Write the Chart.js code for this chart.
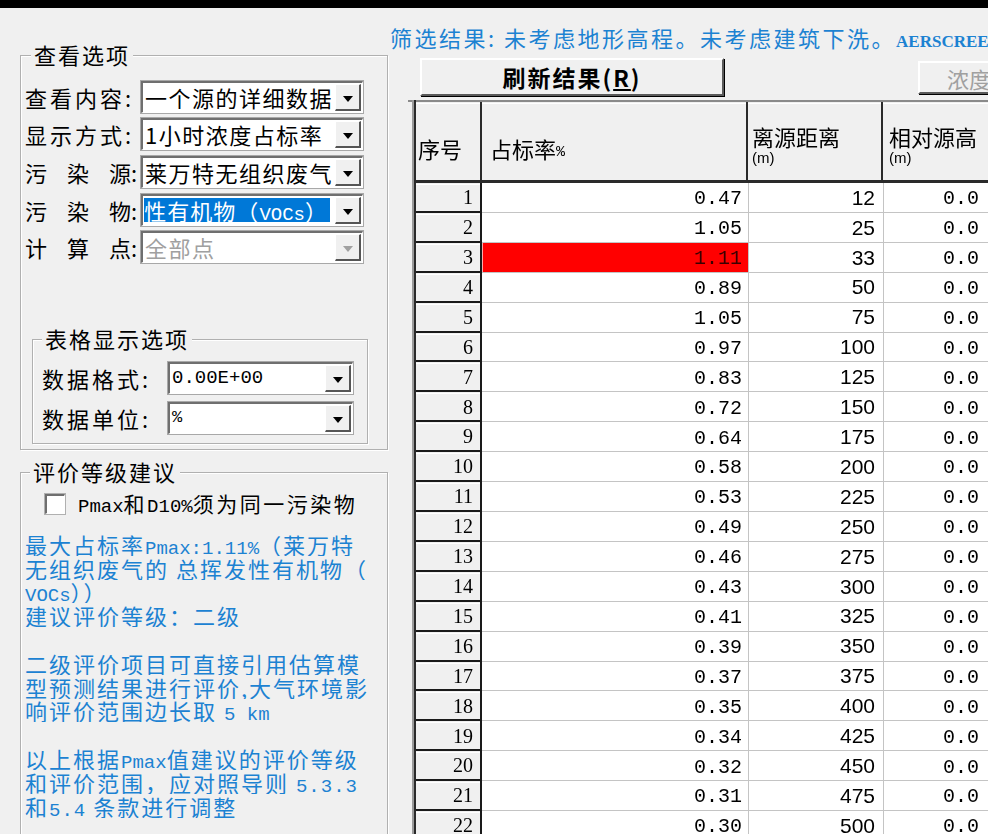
<!DOCTYPE html>
<html><head><meta charset="utf-8">
<script src="https://cdn.jsdelivr.net/npm/chart.js@4.4.1/dist/chart.umd.min.js"></script>
<style>
html,body{margin:0;padding:0;}
body{width:988px;height:834px;overflow:hidden;position:relative;background:#f0f0f0;font-family:"Noto Sans CJK SC","Noto Sans",sans-serif;color:#000;}
.topbar{position:absolute;left:0;top:0;width:988px;height:8px;background:#000;}
.group{position:absolute;border:1px solid #b0b0b0;box-shadow:inset 1px 1px 0 #fff,1px 1px 0 #fff;}
.gtitle{position:absolute;background:#f0f0f0;padding:0 3px;font-size:22px;line-height:26px;letter-spacing:2px;white-space:nowrap;}
.lbl{position:absolute;font-size:22px;line-height:30px;height:30px;white-space:nowrap;letter-spacing:3px;}
.lbl.sp{display:flex;justify-content:space-between;letter-spacing:0;}
.combo{position:absolute;background:#fff;box-sizing:border-box;border-top:2px solid #6f6f6f;border-left:2px solid #6f6f6f;border-bottom:1px solid #fff;border-right:1px solid #fff;box-shadow:0 0 0 1px #a8a8a8;overflow:hidden;}
.combo .txt{position:absolute;left:2px;top:0;font-size:22px;line-height:28px;white-space:nowrap;letter-spacing:1.5px;}
.combo .btn{position:absolute;right:1px;top:1px;bottom:1px;width:26px;background:#f0f0f0;box-sizing:border-box;border-top:1px solid #fff;border-left:1px solid #fff;border-right:2px solid #555;border-bottom:2px solid #555;}
.combo .btn::after{content:"";position:absolute;left:7px;top:11px;border-left:5px solid transparent;border-right:5px solid transparent;border-top:6px solid #000;}
.combo.dis .btn::after{border-top-color:#a0a0a0;}
.blue{color:#1c82d2;}
.bl{position:absolute;left:25px;width:342px;height:24px;overflow:hidden;font-size:22px;line-height:24px;letter-spacing:2px;white-space:nowrap;}
.m{font-family:'Liberation Mono',monospace;font-size:19px;letter-spacing:0;}
.button{position:absolute;box-sizing:border-box;background:#f0f0f0;border-top:2px solid #fff;border-left:2px solid #fff;border-right:2px solid #5a5a5a;border-bottom:2px solid #5a5a5a;box-shadow:1px 1px 0 #000;}
</style></head>
<body>
<div class="topbar"></div>

<!-- 查看选项 -->
<div class="group" style="left:20px;top:55px;width:366px;height:393px;"></div>
<div class="gtitle" style="left:31px;top:41px;">查看选项</div>

<div class="lbl" style="left:25px;top:82px;">查看内容:</div>
<div class="combo" style="left:141px;top:81px;width:222px;height:32px;"><div class="txt">一个源的详细数据</div><div class="btn"></div></div>

<div class="lbl" style="left:25px;top:119px;">显示方式:</div>
<div class="combo" style="left:141px;top:118px;width:222px;height:32px;"><div class="txt">1小时浓度占标率</div><div class="btn"></div></div>

<div class="lbl sp" style="left:25px;top:157px;width:112px;"><span>污</span><span>染</span><span>源:</span></div>
<div class="combo" style="left:141px;top:156px;width:222px;height:32px;"><div class="txt">莱万特无组织废气</div><div class="btn"></div></div>

<div class="lbl sp" style="left:25px;top:195px;width:112px;"><span>污</span><span>染</span><span>物:</span></div>
<div class="combo" style="left:141px;top:194px;width:222px;height:32px;">
  <div style="position:absolute;left:1px;top:2px;width:186px;height:24px;background:#0078d7;overflow:hidden;">
    <div style="position:absolute;right:2px;top:-2px;color:#fff;font-size:22px;line-height:28px;white-space:nowrap;letter-spacing:1px;">发性有机物（<span class="m">VOCs</span>）</div>
  </div><div class="btn"></div></div>

<div class="lbl sp" style="left:25px;top:232px;width:112px;"><span>计</span><span>算</span><span>点:</span></div>
<div class="combo dis" style="left:141px;top:231px;width:222px;height:32px;"><div class="txt" style="color:#a0a0a0;">全部点</div><div class="btn"></div></div>

<!-- 表格显示选项 -->
<div class="group" style="left:32px;top:339px;width:334px;height:103px;"></div>
<div class="gtitle" style="left:42px;top:325px;">表格显示选项</div>
<div class="lbl" style="left:42px;top:363px;">数据格式:</div>
<div class="combo" style="left:168px;top:362px;width:185px;height:32px;"><div class="txt" style="font-family:'Liberation Mono',monospace;font-size:19px;letter-spacing:0;">0.00E+00</div><div class="btn"></div></div>
<div class="lbl" style="left:42px;top:403px;">数据单位:</div>
<div class="combo" style="left:168px;top:402px;width:185px;height:32px;"><div class="txt" style="font-family:'Liberation Mono',monospace;font-size:17px;letter-spacing:0;">%</div><div class="btn"></div></div>

<!-- 评价等级建议 -->
<div class="group" style="left:20px;top:472px;width:366px;height:400px;"></div>
<div class="gtitle" style="left:30px;top:458px;">评价等级建议</div>
<div style="position:absolute;left:45px;top:494px;width:20px;height:20px;box-sizing:border-box;background:#fff;border-top:2px solid #6f6f6f;border-left:2px solid #6f6f6f;border-right:1px solid #fff;border-bottom:1px solid #fff;box-shadow:0 0 0 1px #b0b0b0;"></div>
<div style="position:absolute;left:78px;top:489px;font-size:21px;line-height:28px;letter-spacing:2.5px;white-space:nowrap;"><span class="m">Pmax</span>和<span class="m">D10%</span>须为同一污染物</div>

<div class="blue">
<div class="bl" style="top:532px;">最大占标率<span class="m">Pmax:1.11%</span>（莱万特</div>
<div class="bl" style="top:556px;">无组织废气的 总挥发性有机物（</div>
<div class="bl" style="top:579px;"><span class="m">VOCs</span>））</div>
<div class="bl" style="top:603px;">建议评价等级：二级</div>
<div class="bl" style="top:651px;">二级评价项目可直接引用估算模</div>
<div class="bl" style="top:675px;">型预测结果进行评价,大气环境影响</div>
<div class="bl" style="top:698px;">响评价范围边长取 <span class="m">5 km</span></div>
<div class="bl" style="top:746px;">以上根据<span class="m">Pmax</span>值建议的评价等级</div>
<div class="bl" style="top:770px;">和评价范围，应对照导则 <span class="m" style="letter-spacing:1px;">5.3.3</span></div>
<div class="bl" style="top:794px;">和<span class="m" style="letter-spacing:1px;">5.4</span> 条款进行调整</div>
</div>

<!-- right side -->
<div class="blue" style="position:absolute;left:390px;top:22px;font-size:22px;line-height:30px;letter-spacing:2.5px;white-space:nowrap;">筛选结果: 未考虑地形高程。未考虑建筑下洗。<span style="font-family:'Liberation Serif',serif;font-weight:bold;font-size:17px;letter-spacing:0;">AERSCREEN</span></div>
<div class="button" style="left:420px;top:58px;width:304px;height:38px;">
  <div style="position:absolute;left:0;right:0;top:1px;text-align:center;font-size:23px;line-height:32px;font-weight:bold;letter-spacing:2px;">刷新结果(<u>R</u>)</div>
</div>
<div class="button" style="left:918px;top:61px;width:100px;height:33px;">
  <div style="position:absolute;left:27px;top:0;font-size:22px;line-height:30px;color:#a0a0a0;">浓度</div>
</div>

<canvas id="tbl" width="580" height="760" style="position:absolute;left:408px;top:100px;"></canvas>

<script>
// ---- data ----
const rowNo = [1,2,3,4,5,6,7,8,9,10,11,12,13,14,15,16,17,18,19,20,21,22];
const ratioPct = [0.47,1.05,1.11,0.89,1.05,0.97,0.83,0.72,0.64,0.58,0.53,0.49,0.46,0.43,0.41,0.39,0.37,0.35,0.34,0.32,0.31,0.30];
const distanceM = [12,25,33,50,75,100,125,150,175,200,225,250,275,300,325,350,375,400,425,450,475,500];
const relHeightM = [0,0,0,0,0,0,0,0,0,0,0,0,0,0,0,0,0,0,0,0,0,0];
const headers = ['序号','占标率%','离源距离','相对源高'];

// ---- layout (x-scale units = table pixels) ----
const COL = { no:[8,74], ratio:[74,340], dist:[340,475], rel:[475,640] };
const maxIdx = ratioPct.indexOf(Math.max(...ratioPct));
const highlight = ratioPct.map((v,i)=> i===maxIdx ? [COL.ratio[0]+1, COL.ratio[1]] : null);

const tablePlugin = {
  id:'tablePlugin',
  beforeDatasetsDraw(chart){
    const {ctx, chartArea:ca, scales:{x,y}} = chart;
    const px = v => x.getPixelForValue(v);
    ctx.save();
    ctx.fillStyle = '#f0f0f0';
    ctx.fillRect(0,0,chart.width,chart.height);
    ctx.fillStyle = '#fff';
    ctx.fillRect(px(COL.ratio[0]), ca.top, chart.width, ca.bottom-ca.top);
    ctx.restore();
  },
  afterDatasetsDraw(chart){
    const {ctx, chartArea:ca, scales:{x,y}} = chart;
    const px = v => x.getPixelForValue(v);
    const rowH = y.getPixelForValue(1) - y.getPixelForValue(0);
    ctx.save();
    // data grid lines
    ctx.fillStyle = '#c4c4c4';
    rowNo.forEach((r,i)=>{
      const yb = Math.round(y.getPixelForValue(i) + rowH/2);
      ctx.fillRect(px(COL.ratio[0]), yb-1, chart.width, 1);
    });
    [COL.dist[0], COL.rel[0]].forEach(c=> ctx.fillRect(Math.round(px(c)), ca.top, 1, ca.bottom-ca.top));
    // row header cells
    rowNo.forEach((r,i)=>{
      const yt = Math.round(y.getPixelForValue(i) - rowH/2);
      const yb = Math.round(y.getPixelForValue(i) + rowH/2);
      ctx.fillStyle = '#fff';
      ctx.fillRect(px(COL.no[0]), yt+1, px(COL.no[1])-px(COL.no[0]), 1);
      ctx.fillStyle = '#1a1a1a';
      ctx.fillRect(px(COL.no[0]), yb-2, px(COL.no[1])-px(COL.no[0]), 2);
    });
    ctx.fillStyle = '#1a1a1a';
    ctx.fillRect(px(COL.no[1])-2, ca.top, 2, ca.bottom-ca.top);
    // header
    ctx.fillStyle = '#f0f0f0';
    ctx.fillRect(0, 0, chart.width, ca.top);
    ctx.fillStyle = '#8a8a8a';
    ctx.fillRect(0, 0, chart.width, 2);
    ctx.fillStyle = '#fff';
    ctx.fillRect(px(COL.no[0]), 3, chart.width, 1);
    ctx.fillStyle = '#2a2a2a';
    ctx.fillRect(px(COL.no[0]), ca.top-3, chart.width, 3);
    [COL.no[1], COL.dist[0], COL.rel[0]].forEach(c=>{
      ctx.fillStyle = '#2a2a2a';
      ctx.fillRect(Math.round(px(c))-2, 2, 2, ca.top-2);
    });
    // outer left border
    ctx.fillStyle = '#9a9a9a';
    ctx.fillRect(px(COL.no[0])-4, 0, 2, chart.height);
    ctx.fillStyle = '#2a2a2a';
    ctx.fillRect(px(COL.no[0])-2, 0, 2, chart.height);
    // header texts
    ctx.fillStyle = '#000';
    ctx.textBaseline = 'middle';
    ctx.textAlign = 'left';
    ctx.font = '22px "Noto Sans CJK SC"';
    ctx.fillText(headers[0], px(COL.no[0])+2, 50);
    ctx.fillText('占标率', px(COL.ratio[0])+8, 50);
    ctx.font = '15px "Liberation Mono"';
    ctx.fillText('%', px(COL.ratio[0])+8+66, 52);
    ctx.font = '22px "Noto Sans CJK SC"';
    ctx.fillText(headers[2], px(COL.dist[0])+4, 38);
    ctx.fillText(headers[3], px(COL.rel[0])+6, 38);
    ctx.font = '15px "Liberation Sans"';
    ctx.fillText('(m)', px(COL.dist[0])+4, 59);
    ctx.fillText('(m)', px(COL.rel[0])+6, 59);
    // body texts
    rowNo.forEach((r,i)=>{
      const yc = y.getPixelForValue(i) + 1;
      ctx.textAlign = 'right';
      ctx.fillStyle = '#000';
      ctx.font = '20px "Liberation Serif"';
      ctx.fillText(String(r), px(COL.no[1])-9, yc);
      ctx.font = '20px "Liberation Mono"';
      ctx.fillStyle = i===maxIdx ? '#3a0000' : '#000';
      ctx.fillText(ratioPct[i].toFixed(2), px(COL.ratio[1])-6, yc);
      ctx.fillStyle = '#000';
      ctx.font = '21px "Liberation Sans"';
      ctx.fillText(String(distanceM[i]), px(COL.dist[1])-8, yc);
      ctx.textAlign = 'left';
      ctx.font = '20px "Liberation Mono"';
      ctx.fillText(relHeightM[i].toFixed(1), px(COL.rel[0])+60, yc);
    });
    ctx.restore();
  }
};

new Chart(document.getElementById('tbl'), {
  type:'bar',
  data:{ labels: rowNo.map(String),
    datasets:[{ data: highlight, backgroundColor:'#ff0000', borderWidth:0, barPercentage:1, categoryPercentage:1, borderSkipped:false }]},
  options:{
    indexAxis:'y', responsive:false, maintainAspectRatio:false, animation:false, devicePixelRatio:1, events:[],
    layout:{ padding:{ top:83, bottom:19, left:0, right:0 } },
    plugins:{ legend:{display:false}, tooltip:{enabled:false} },
    scales:{
      x:{ type:'linear', min:0, max:580, display:false },
      y:{ type:'category', display:false, offset:true, grid:{display:false} }
    }
  },
  plugins:[tablePlugin]
});
</script>
</body></html>
